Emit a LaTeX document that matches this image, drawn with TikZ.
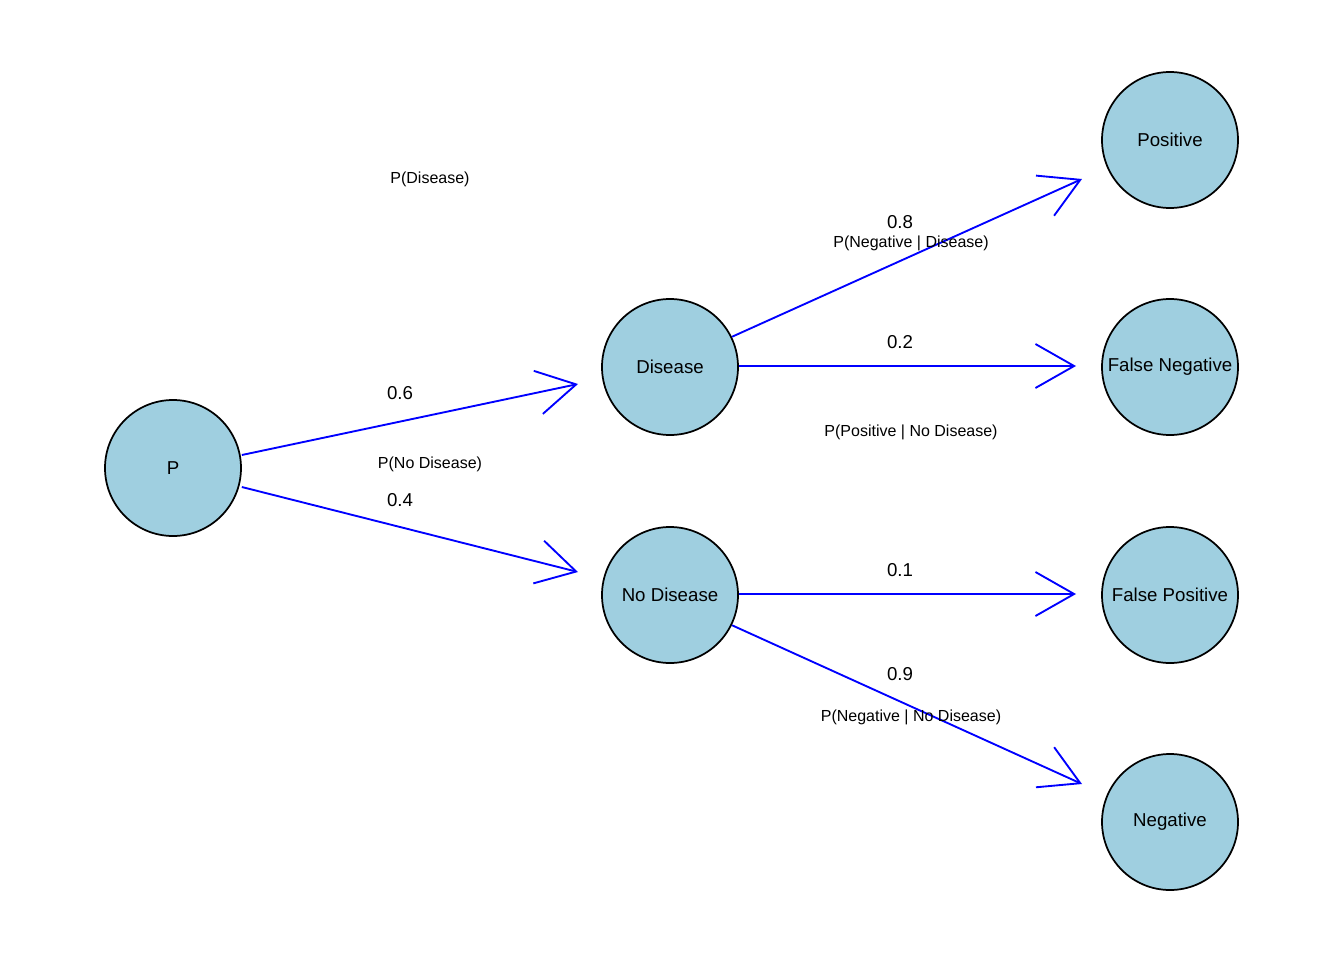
\documentclass[tikz,border=0pt]{standalone}
\usepackage{fontspec}
\setmainfont{Liberation Sans}
\usetikzlibrary{arrows.meta}
\definecolor{nodefill}{HTML}{9FCFE0}
\begin{document}
\begin{tikzpicture}[x=0.75pt,y=-0.75pt,
  state/.style={circle,draw=black,line width=1.3pt,fill=nodefill,minimum size=102pt,inner sep=0pt,font=\fontsize{14}{16}\selectfont},
  edge/.style={draw=blue,line width=1.4pt,-{Straight Barb[length=29pt,width=33pt,line width=1.4pt]}},
  prob/.style={font=\fontsize{14}{16}\selectfont},
  cond/.style={font=\fontsize{12}{14}\selectfont}]
\useasboundingbox (0,0) rectangle (1344,960);
% states
\node[state] (p) at (173,468) {P};
\node[state] (d) at (670,367) {Disease};
\node[state] (nd) at (670,595) {No Disease};
\node[state] (pos) at (1170,140) {Positive};
\node[state] (fn) at (1170,367) {False Negative};
\node[state] (fp) at (1170,595) {False Positive};
\node[state] (neg) at (1170,822) {Negative};
% arrow tip points in front of the target states
\coordinate (td) at (578,384);
\coordinate (tnd) at (578,572);
\coordinate (tpos) at (1082,179);
\coordinate (tfn) at (1076,366);
\coordinate (tfp) at (1076,594);
\coordinate (tneg) at (1082,784);
% branches
\draw[edge] (p.east |- 0,455) -- (td);
\draw[edge] (p.east |- 0,487) -- (tnd);
\draw[edge] (d) ++(-26:69) -- (tpos);
\draw[edge] (d.east |- 0,366) -- (tfn);
\draw[edge] (nd.east |- 0,594) -- (tfp);
\draw[edge] (nd) ++(26:69) -- (tneg);
% labels
\node[cond] (l1) at (430,179) {P(Disease)};
\node[prob] (v1) at (400,393) {0.6};
\node[cond] (l2) at (430,464) {P(No Disease)};
\node[prob] (v2) at (400,500) {0.4};
\node[prob] (v3) at (900,222) {0.8};
\node[cond] (l3) at (911,243) {P(Negative | Disease)};
\node[prob] (v4) at (900,342) {0.2};
\node[cond] (l4) at (911,432) {P(Positive | No Disease)};
\node[prob] (v5) at (900,570) {0.1};
\node[prob] (v6) at (900,674) {0.9};
\node[cond] (l5) at (911,717) {P(Negative | No Disease)};
\end{tikzpicture}
\end{document}
